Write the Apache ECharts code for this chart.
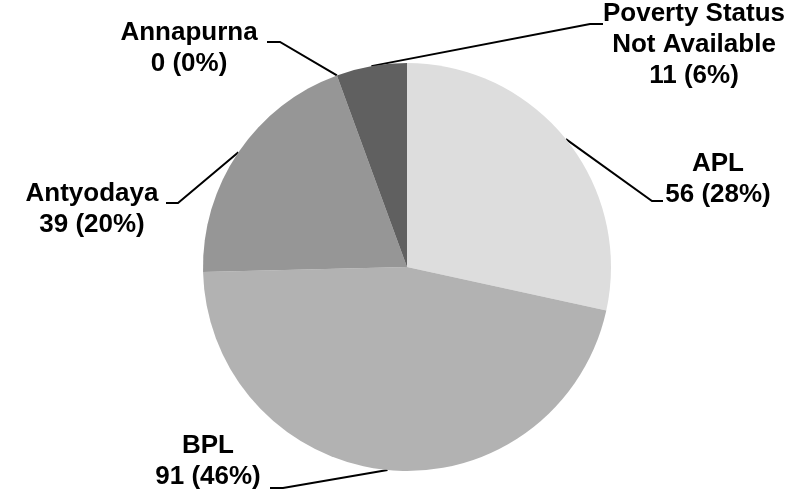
<!DOCTYPE html>
<html>
<head>
<meta charset="utf-8">
<script src="https://cdn.jsdelivr.net/npm/echarts@6/dist/echarts.min.js"></script>
<style>
  html, body { margin: 0; padding: 0; background: #fff; }
  #chart { width: 801px; height: 498px; }
</style>
</head>
<body>
<div id="chart"></div>
<script>
// data
const categories = ['APL', 'BPL', 'Antyodaya', 'Annapurna', 'Poverty Status\nNot Available'];
const values = [56, 91, 39, 0, 11];
const sliceColors = ['#dddddd', '#b2b2b2', '#969696', '#7a7a7a', '#606060'];

// where each label sits and where its leader line stops
const labelPos = [[718, 179], [208, 461], [92, 209], [189, 48], [694, 45]];
const lineEnds = [[663, 201], [270, 488], [166, 203], [267, 42], [603, 24]];
const elbowOffset = [-11, 13, 12, 13, -13];

let chart = echarts.init(document.getElementById('chart'));

let option = {
  animation: false,
  series: [
    {
      type: 'pie',
      center: [407, 267],
      radius: 204,
      startAngle: 90,
      clockwise: true,
      percentPrecision: 0,
      avoidLabelOverlap: false,
      emphasis: { disabled: true },
      itemStyle: { borderWidth: 0 },
      label: {
        show: true,
        position: 'outside',
        formatter: '{b}\n{c} ({d}%)',
        fontFamily: 'Liberation Sans, Arial, sans-serif',
        fontWeight: 'bold',
        fontSize: 26,
        lineHeight: 31,
        color: '#000',
        align: 'center'
      },
      labelLine: {
        show: true,
        length: 10,
        length2: 10,
        lineStyle: { color: '#000', width: 2 }
      },
      labelLayout: function (params) {
        let i = params.dataIndex;
        let start = params.labelLinePoints ? params.labelLinePoints[0] : lineEnds[i];
        let end = lineEnds[i];
        return {
          x: labelPos[i][0],
          y: labelPos[i][1],
          align: 'center',
          verticalAlign: 'middle',
          labelLinePoints: [start, [end[0] + elbowOffset[i], end[1]], end]
        };
      },
      data: categories.map(function (name, i) {
        return { name: name, value: values[i], itemStyle: { color: sliceColors[i] } };
      })
    }
  ]
};

chart.setOption(option);
</script>
</body>
</html>
